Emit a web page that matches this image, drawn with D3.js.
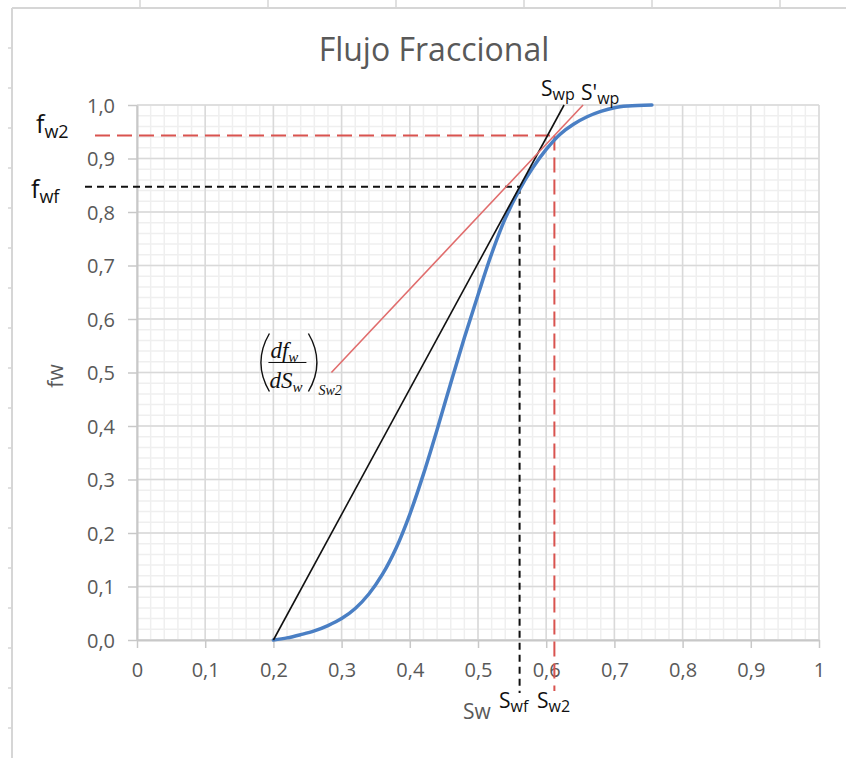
<!DOCTYPE html>
<html>
<head>
<meta charset="utf-8">
<script src="https://cdn.jsdelivr.net/npm/d3@7"></script>
<style>
  html, body { margin: 0; padding: 0; background: #ffffff; }
  svg { display: block; }
</style>
</head>
<body>
<svg id="chart" width="846" height="758"></svg>
<script>
// ---- data ----
const chartTitle = "Flujo Fraccional";
const xAxisTitle = "Sw";
const yAxisTitle = "fw";

// fractional flow curve fw(Sw)
const saturation = [0.20, 0.22, 0.24, 0.26, 0.28, 0.30, 0.32, 0.34, 0.36, 0.38, 0.40, 0.42, 0.44, 0.46, 0.48,
                    0.50, 0.52, 0.54, 0.56, 0.58, 0.60, 0.62, 0.64, 0.66, 0.68, 0.70, 0.72, 0.755];
const fractionalFlow = [0.000, 0.004, 0.010, 0.017, 0.027, 0.040, 0.059, 0.086, 0.123, 0.172, 0.235, 0.310, 0.393, 0.480, 0.565,
                        0.645, 0.722, 0.788, 0.840, 0.882, 0.917, 0.945, 0.964, 0.978, 0.988, 0.995, 0.998, 1.000];

const xTicks = [0, 0.1, 0.2, 0.3, 0.4, 0.5, 0.6, 0.7, 0.8, 0.9, 1];
const xTickLabels = ["0", "0,1", "0,2", "0,3", "0,4", "0,5", "0,6", "0,7", "0,8", "0,9", "1"];
const yTicks = [0, 0.1, 0.2, 0.3, 0.4, 0.5, 0.6, 0.7, 0.8, 0.9, 1.0];
const yTickLabels = ["0,0", "0,1", "0,2", "0,3", "0,4", "0,5", "0,6", "0,7", "0,8", "0,9", "1,0"];

// Welge construction
const swi = 0.20;                       // initial water saturation (tangent origin)
const swf = 0.561, fwf = 0.847;         // front saturation / fractional flow
const sw2 = 0.612, fw2 = 0.943;         // point Sw2 on the curve
const slopeSw2 = 1.355;                 // (dfw/dSw) at Sw2
const tangentStartFw = 0.5;             // red tangent drawn from fw = 0.5 up to fw = 1

// ---- layout ----
const W = 846, H = 758;
const x = d3.scaleLinear().domain([0, 1]).range([137, 819]);
const y = d3.scaleLinear().domain([0, 1]).range([640, 105]);

const svg = d3.select("#chart");
const FONT = "'Open Sans', 'Noto Sans', sans-serif";
const GRAY_TEXT = "#595959";

// worksheet edges behind the chart
const sheet = svg.append("g").attr("stroke", "#d6d6d6");
sheet.append("line").attr("x1", 12).attr("x2", W).attr("y1", 8).attr("y2", 8).attr("stroke-width", 2);
sheet.append("line").attr("x1", 12).attr("x2", 12).attr("y1", 8).attr("y2", H).attr("stroke-width", 2);
sheet.selectAll(".ct").data(d3.range(140, W, 128)).join("line")
  .attr("x1", d => d).attr("x2", d => d).attr("y1", 0).attr("y2", 8).attr("stroke-width", 1.5);
sheet.selectAll(".rt").data(d3.range(48, H, 40)).join("line")
  .attr("x1", 8).attr("x2", 12).attr("y1", d => d).attr("y2", d => d).attr("stroke-width", 1.5);

// title
svg.append("text")
  .attr("x", 434).attr("y", 61)
  .attr("text-anchor", "middle")
  .attr("font-family", FONT).attr("font-size", 32)
  .attr("fill", GRAY_TEXT)
  .text(chartTitle);

// gridlines
const minor = d3.range(0, 1.0001, 0.02);
const grid = svg.append("g");
grid.selectAll(".vmin").data(minor).join("line")
  .attr("x1", d => x(d)).attr("x2", d => x(d)).attr("y1", y(0)).attr("y2", y(1))
  .attr("stroke", "#efefef").attr("stroke-width", 1.5);
grid.selectAll(".hmin").data(minor).join("line")
  .attr("x1", x(0)).attr("x2", x(1)).attr("y1", d => y(d)).attr("y2", d => y(d))
  .attr("stroke", "#efefef").attr("stroke-width", 1.5);
grid.selectAll(".vmaj").data(xTicks).join("line")
  .attr("x1", d => x(d)).attr("x2", d => x(d)).attr("y1", y(0)).attr("y2", y(1))
  .attr("stroke", "#d9d9d9").attr("stroke-width", 1.5);
grid.selectAll(".hmaj").data(yTicks).join("line")
  .attr("x1", x(0)).attr("x2", x(1)).attr("y1", d => y(d)).attr("y2", d => y(d))
  .attr("stroke", "#d9d9d9").attr("stroke-width", 1.5);

// axes
const xAxis = svg.append("g").attr("transform", `translate(0,${y(0)})`)
  .call(d3.axisBottom(x).tickValues(xTicks).tickFormat((d, i) => xTickLabels[i]).tickSize(8).tickSizeOuter(0));
const yAxis = svg.append("g").attr("transform", `translate(${x(0)},0)`)
  .call(d3.axisLeft(y).tickValues(yTicks).tickFormat((d, i) => yTickLabels[i]).tickSize(9).tickSizeOuter(0));
[xAxis, yAxis].forEach(g => {
  g.select(".domain").attr("stroke", "#c8c8c8").attr("stroke-width", 2);
  g.selectAll(".tick line").attr("stroke", "#c8c8c8").attr("stroke-width", 1.5);
  g.selectAll(".tick text").attr("font-family", FONT).attr("font-size", 20).attr("fill", GRAY_TEXT);
});
xAxis.selectAll(".tick text").attr("y", 37).attr("dy", null);
yAxis.selectAll(".tick text").attr("x", -22).attr("dy", "0.36em");

// axis titles
svg.append("text")
  .attr("transform", "translate(63,376) rotate(-90)")
  .attr("text-anchor", "middle")
  .attr("font-family", FONT).attr("font-size", 21).attr("fill", GRAY_TEXT)
  .text(yAxisTitle);
svg.append("text")
  .attr("x", 477).attr("y", 719)
  .attr("text-anchor", "middle")
  .attr("font-family", FONT).attr("font-size", 21).attr("fill", GRAY_TEXT)
  .text(xAxisTitle);

// dashed guides
const guides = svg.append("g").attr("fill", "none");
guides.append("line")
  .attr("x1", 85).attr("x2", x(swf)).attr("y1", y(fwf)).attr("y2", y(fwf))
  .attr("stroke", "#111").attr("stroke-width", 2).attr("stroke-dasharray", "7,5");
guides.append("line")
  .attr("x1", x(swf)).attr("x2", x(swf)).attr("y1", y(fwf)).attr("y2", 693)
  .attr("stroke", "#111").attr("stroke-width", 2).attr("stroke-dasharray", "7,5");
guides.append("line")
  .attr("x1", 95).attr("x2", x(sw2)).attr("y1", y(fw2)).attr("y2", y(fw2))
  .attr("stroke", "#d9534f").attr("stroke-width", 2).attr("stroke-dasharray", "15,7");
guides.append("line")
  .attr("x1", x(sw2)).attr("x2", x(sw2)).attr("y1", y(fw2)).attr("y2", 691)
  .attr("stroke", "#d9534f").attr("stroke-width", 2).attr("stroke-dasharray", "15,7");

// fractional flow curve
const curveData = saturation.map((s, i) => [s, fractionalFlow[i]]);
svg.append("path")
  .datum(curveData)
  .attr("fill", "none")
  .attr("stroke", "#4a7fc4")
  .attr("stroke-width", 3.5)
  .attr("stroke-linecap", "round")
  .attr("d", d3.line().x(d => x(d[0])).y(d => y(d[1])).curve(d3.curveCatmullRom.alpha(0.5)));

// tangent from Swi through the front point, up to fw = 1
const frontSlope = fwf / (swf - swi);
const frontLine = [[swi, 0], [swi + 1 / frontSlope, 1]];
svg.append("path")
  .datum(frontLine)
  .attr("fill", "none").attr("stroke", "#111").attr("stroke-width", 1.6)
  .attr("d", d3.line().x(d => x(d[0])).y(d => y(d[1])));

// tangent to the curve at Sw2
const sw2Line = [
  [sw2 + (tangentStartFw - fw2) / slopeSw2, tangentStartFw],
  [sw2 + (1 - fw2) / slopeSw2, 1]
];
svg.append("path")
  .datum(sw2Line)
  .attr("fill", "none").attr("stroke", "#e06c6c").attr("stroke-width", 1.6)
  .attr("d", d3.line().x(d => x(d[0])).y(d => y(d[1])));

// labels with subscripts
function subLabel(px, py, main, sub, mainSize, subSize, subDy, opts = {}) {
  const t = svg.append("text")
    .attr("x", px).attr("y", py)
    .attr("font-family", opts.family || FONT)
    .attr("font-style", opts.style || "normal")
    .attr("fill", opts.fill || "#111");
  t.append("tspan").attr("font-size", mainSize).text(main);
  t.append("tspan").attr("font-size", subSize).attr("dy", subDy).text(sub);
  return t;
}
subLabel(36, 133, "f", "w2", 25, 18, 5);
subLabel(31, 198, "f", "wf", 25, 18, 5);
subLabel(541, 96, "S", "wp", 21, 16, 4);
subLabel(581, 100, "S'", "wp", 21, 16, 4);
subLabel(499, 708, "S", "wf", 21, 16, 4);
subLabel(537, 708, "S", "w2", 21, 16, 4);

// derivative annotation at the start of the red tangent
const ax = x(sw2Line[0][0]), ay = y(sw2Line[0][1]);
const f = svg.append("g").attr("transform", `translate(${ax},${ay})`)
  .attr("font-family", "'Liberation Serif', 'DejaVu Serif', serif")
  .attr("font-style", "italic").attr("fill", "#111");
f.append("path")
  .attr("d", "M-62,-39 Q-79,-10 -62,19")
  .attr("fill", "none").attr("stroke", "#111").attr("stroke-width", 1.4);
f.append("path")
  .attr("d", "M-23,-39 Q-6,-10 -23,19")
  .attr("fill", "none").attr("stroke", "#111").attr("stroke-width", 1.4);
f.append("line")
  .attr("x1", -63).attr("x2", -25).attr("y1", -10).attr("y2", -10)
  .attr("stroke", "#111").attr("stroke-width", 1.2);
const num = f.append("text").attr("x", -61).attr("y", -15);
num.append("tspan").attr("font-size", 23).text("df");
num.append("tspan").attr("font-size", 15).attr("dy", 4).text("w");
const den = f.append("text").attr("x", -62).attr("y", 15);
den.append("tspan").attr("font-size", 23).text("dS");
den.append("tspan").attr("font-size", 15).attr("dy", 4).text("w");
f.append("text").attr("x", -13).attr("y", 22).attr("font-size", 14).text("Sw2");
</script>
</body>
</html>
